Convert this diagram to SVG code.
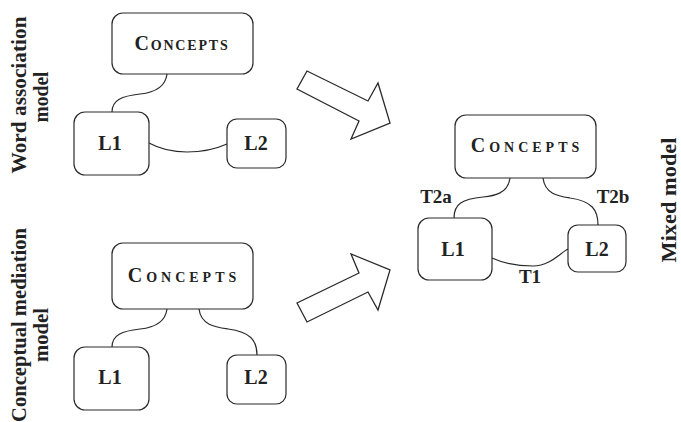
<svg xmlns="http://www.w3.org/2000/svg" width="681" height="422" viewBox="0 0 681 422">
<style>
.box{fill:#fff;stroke:#2a2a2a;stroke-width:1.2}
.lnk{fill:none;stroke:#2a2a2a;stroke-width:1.2}
.arr{fill:#fff;stroke:#2a2a2a;stroke-width:1.3;stroke-linejoin:miter}
.t{font-family:"Liberation Serif","Times New Roman",serif;font-weight:bold;fill:#222}
.lab{font-size:20px;text-anchor:middle}
.con{font-size:20px;font-variant:small-caps;text-anchor:middle}
.side{font-size:22px;text-anchor:middle}
.tl{font-size:19px;text-anchor:middle}
</style>
<rect width="681" height="422" fill="#fff"/>
<g id="labels">
<text class="t side" transform="translate(26,95) rotate(-90)" textLength="157" lengthAdjust="spacingAndGlyphs">Word association</text>
<text class="t side" transform="translate(48,97) rotate(-90)" textLength="51" lengthAdjust="spacingAndGlyphs">model</text>
<text class="t side" transform="translate(26,325) rotate(-90)" textLength="194" lengthAdjust="spacingAndGlyphs">Conceptual mediation</text>
<text class="t side" transform="translate(48,335) rotate(-90)" textLength="54" lengthAdjust="spacingAndGlyphs">model</text>
<text class="t side" transform="translate(676,200) rotate(-90)" textLength="125" lengthAdjust="spacingAndGlyphs">Mixed model</text>
</g>
<g id="connectors">
<path class="lnk" d="M167,74 C165,90 150,93 140,94 C122,96 112,100 112,112"/>
<path class="lnk" d="M149,143 C160,149 172,152 187,152 C205,152 218,148 227,144"/>
<path class="lnk" d="M167,309 C165,325 150,328 140,329 C122,331 112,335 112,347"/>
<path class="lnk" d="M199,309 C201,325 215,327 228,329 C250,332 257,340 257,355"/>
<path class="lnk" d="M510,178 C508,194 493,196 483,197 C462,199 454,204 454,218"/>
<path class="lnk" d="M543,178 C545,194 558,196 570,198 C592,201 598,210 598,225"/>
<path class="lnk" d="M492,258 C505,264 518,266 533,266 C550,266 560,253 568,249"/>
<text class="t tl" x="436" y="203">T2a</text>
<text class="t tl" x="613" y="203">T2b</text>
<text class="t tl" x="530" y="283">T1</text>
</g>
<g id="arrows">
<polygon class="arr" points="307,71 297,89 359,121 351,139 390,123 378,83 368,101"/>
<polygon class="arr" points="297,303 307,322 368,292 378,310 390,270 351,254 359,273"/>
</g>
<g id="wa-concepts"><rect class="box" x="112" y="13" width="141" height="61" rx="11"/><text class="t con" x="182" y="50" letter-spacing="1.8">Concepts</text></g>
<g id="wa-l1"><rect class="box" x="74" y="112" width="75" height="63" rx="11"/><text class="t lab" x="110" y="150">L1</text></g>
<g id="wa-l2"><rect class="box" x="227" y="119" width="59" height="49" rx="10"/><text class="t lab" x="256" y="150">L2</text></g>
<g id="cm-concepts"><rect class="box" x="112" y="243" width="141" height="66" rx="11"/><text class="t con" x="184" y="282" letter-spacing="4">Concepts</text></g>
<g id="cm-l1"><rect class="box" x="74" y="347" width="75" height="63" rx="11"/><text class="t lab" x="110" y="384">L1</text></g>
<g id="cm-l2"><rect class="box" x="227" y="355" width="59" height="49" rx="10"/><text class="t lab" x="256" y="384">L2</text></g>
<g id="mx-concepts"><rect class="box" x="455" y="115" width="141" height="63" rx="11"/><text class="t con" x="527" y="152" letter-spacing="4">Concepts</text></g>
<g id="mx-l1"><rect class="box" x="418" y="218" width="74" height="62" rx="11"/><text class="t lab" x="453" y="256">L1</text></g>
<g id="mx-l2"><rect class="box" x="568" y="225" width="58" height="47" rx="10"/><text class="t lab" x="597" y="256">L2</text></g>
</svg>
